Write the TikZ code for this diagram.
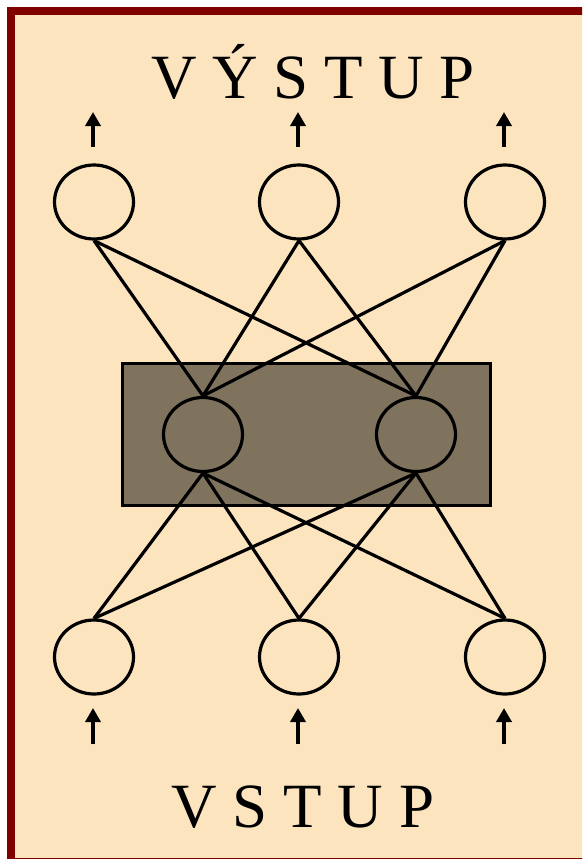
\documentclass[tikz,border=0pt]{standalone}
\usepackage{fontspec}
\setmainfont{Liberation Serif}
\usetikzlibrary{arrows.meta,shapes.geometric}
\definecolor{bgc}{HTML}{FCE4BE}
\definecolor{framec}{HTML}{800000}
\definecolor{boxc}{HTML}{7F735D}
\tikzset{
  neuron/.style={ellipse, draw=black, line width=3.2pt, minimum width=79pt, minimum height=74pt, inner sep=0pt},
  conn/.style={line width=3.2pt},
  io/.style={line width=3.5pt, -{Triangle[length=14pt,width=15pt]}},
  title/.style={font=\fontsize{63}{63}\selectfont, anchor=base, inner sep=0pt},
}
\begin{document}
\begin{tikzpicture}[x=1pt,y=-1pt]
\useasboundingbox (0,0) rectangle (582,859);
\begin{scope}
\clip (0,0) rectangle (582,859);
\fill[white] (0,0) rectangle (582,859);
\draw[fill=bgc, draw=framec, line width=8pt] (11,11.5) rectangle (590,862);
\end{scope}
\node[draw=black, line width=3.2pt, fill=boxc, minimum width=368pt, minimum height=142pt, inner sep=0pt] (box) at (306.5,434.5) {};
% top layer
\node[neuron] (o1) at (94,202) {};
\node[neuron] (o2) at (299,202) {};
\node[neuron] (o3) at (505,202) {};
% hidden
\node[neuron] (h1) at (203,434.5) {};
\node[neuron] (h2) at (416,434.5) {};
% bottom
\node[neuron] (i1) at (94,657) {};
\node[neuron] (i2) at (299,657) {};
\node[neuron] (i3) at (505,657) {};
% connections
\foreach \o in {o1,o2,o3}{
  \foreach \h in {h1,h2}{
    \draw[conn] (\o.south) -- (\h.north);
  }
}
\foreach \i in {i1,i2,i3}{
  \foreach \h in {h1,h2}{
    \draw[conn] (\i.north) -- (\h.south);
  }
}
% arrows
\foreach \n/\x in {ta1/93,ta2/298,ta3/504}{
  \coordinate (\n s) at (\x,147);
  \coordinate (\n e) at (\x,112);
  \draw[io] (\n s) -- (\n e);
}
\foreach \n/\x in {ba1/93,ba2/298,ba3/504}{
  \coordinate (\n s) at (\x,744);
  \coordinate (\n e) at (\x,708);
  \draw[io] (\n s) -- (\n e);
}
\node[title] (out) at (313,99) {V Ý S T U P};
\node[title] (in) at (303,827) {V S T U P};
\end{tikzpicture}
\end{document}
